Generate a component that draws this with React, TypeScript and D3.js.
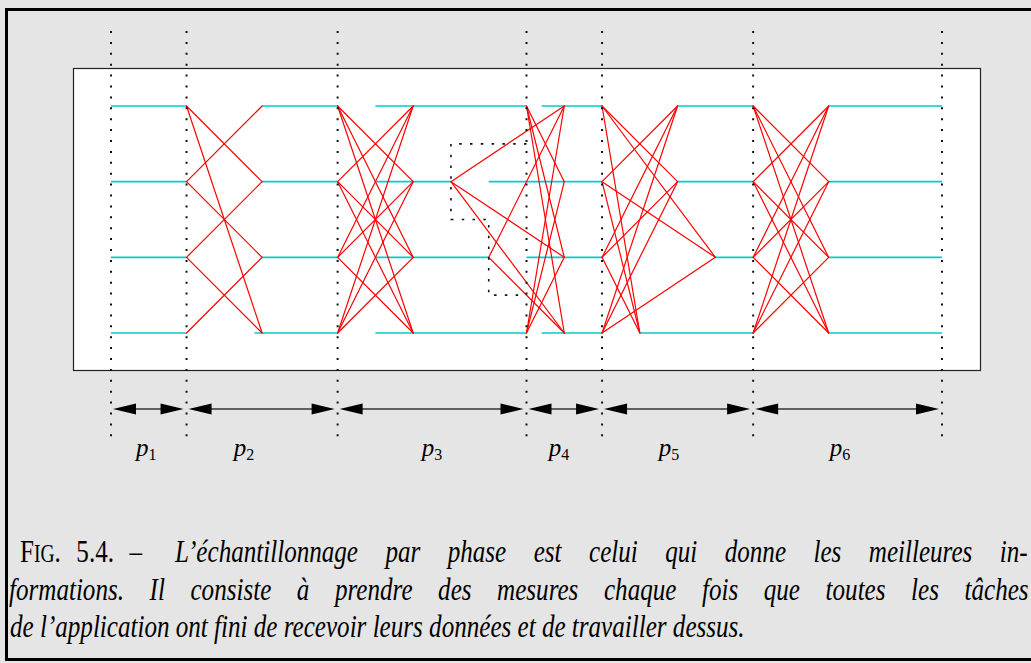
import React from "react";
import * as d3 from "d3";

// ---- data ----
const tasks = [0, 1, 2, 3];
const timeDomain = [0, 22];
const phaseBounds = [0, 2, 6, 11, 13, 17, 22];
const phaseNames = ["1", "2", "3", "4", "5", "6"];
const labelTimes = [0.93, 3.52, 8.5, 11.86, 14.77, 19.3];

// [task, start, end]  computation segments (cyan)
const computeSegments: [number, number, number][] = [
  [0, 0, 2], [0, 4, 6], [0, 7, 11], [0, 11.4, 13], [0, 15, 17], [0, 19, 22],
  [1, 0, 2], [1, 4, 6], [1, 7, 9], [1, 10, 13], [1, 15, 17], [1, 19, 22],
  [2, 0, 2], [2, 4, 6], [2, 7, 10], [2, 11, 13], [2, 16, 17], [2, 19, 22],
  [3, 0, 2], [3, 3.8, 6], [3, 7, 11], [3, 11.4, 13], [3, 14, 17], [3, 19, 22],
];

// [from, to, sendTime, recvTime]  messages (red)
const messagesP2: [number, number, number, number][] = [
  [0, 1, 2, 4], [0, 3, 2, 4], [1, 0, 2, 4], [1, 2, 2, 4], [2, 1, 2, 4], [2, 3, 2, 4], [3, 2, 2, 4],
];
const messagesP3: [number, number, number, number][] = [
  [0, 1, 6, 8], [0, 2, 6, 8], [0, 3, 6, 8], [1, 0, 6, 8], [1, 2, 6, 8], [1, 3, 6, 8],
  [2, 0, 6, 8], [2, 1, 6, 8], [2, 3, 6, 8], [3, 0, 6, 8], [3, 1, 6, 8], [3, 2, 6, 8],
];
const messagesP4: [number, number, number, number][] = [
  [1, 0, 9, 12], [1, 2, 9, 12], [1, 3, 9, 12], [2, 0, 10, 12], [2, 3, 10, 12],
  [0, 1, 11, 12], [0, 2, 11, 12], [0, 3, 11, 12], [3, 0, 11, 12], [3, 1, 11, 12], [3, 2, 11, 12],
];
const messagesP5: [number, number, number, number][] = [
  [0, 1, 13, 15], [0, 2, 13, 16], [0, 3, 13, 14], [1, 0, 13, 15], [1, 2, 13, 16], [1, 3, 13, 14],
  [2, 0, 13, 15], [2, 1, 13, 15], [2, 3, 13, 14], [3, 0, 13, 15], [3, 1, 13, 15], [3, 2, 13, 16],
];
const messagesP6: [number, number, number, number][] = [
  [0, 1, 17, 19], [0, 2, 17, 19], [0, 3, 17, 19], [1, 0, 17, 19], [1, 2, 17, 19], [1, 3, 17, 19],
  [2, 0, 17, 19], [2, 1, 17, 19], [2, 3, 17, 19], [3, 0, 17, 19], [3, 1, 17, 19], [3, 2, 17, 19],
];

// stepped dotted outline in phase 3: [time, taskPosition]
const stepOutline: [number, number][] = [
  [11, 0.5], [9, 0.5], [9, 1.5], [10, 1.5], [10, 2.5], [11, 2.5],
];

const captionHead = ["F", "IG", ". 5.4. –"];
const captionLines = [
  "L’échantillonnage par phase est celui qui donne les meilleures in-",
  "formations. Il consiste à prendre des mesures chaque fois que toutes les tâches",
  "de l’application ont fini de recevoir leurs données et de travailler dessus.",
];

// ---- helpers ----
let ctx: CanvasRenderingContext2D | null = null;
function measure(text: string, font: string): number {
  if (!ctx) ctx = document.createElement("canvas").getContext("2d");
  if (!ctx) return text.length * 10;
  ctx.font = font;
  return ctx.measureText(text).width;
}

const CAP_FONT_SIZE = 31;
const CAP_FAMILY = "'Liberation Serif', 'Times New Roman', serif";

export default function App() {
  const W = 1031;
  const H = 663;
  const x = d3.scaleLinear().domain(timeDomain).range([111, 942]);
  const y = d3.scaleLinear().domain([0, 3]).range([106, 333]);

  const allMessages = [...messagesP2, ...messagesP3, ...messagesP4, ...messagesP5, ...messagesP6];
  const outline = d3.line<[number, number]>().x((d) => x(d[0])).y((d) => y(d[1]))(stepOutline) || "";

  const italicFont = `italic ${CAP_FONT_SIZE}px ${CAP_FAMILY}`;
  const nat3 = measure(captionLines[2], italicFont);
  const hScale = 735 / nat3;

  const justify = (text: string, target: number, s: number, font: string) => {
    const nat = measure(text, font);
    const spaces = (text.match(/ /g) || []).length;
    return spaces ? Math.max(0, (target / s - nat) / spaces) : 0;
  };

  const captionRows = [
    { x0: 175, base: 562, text: captionLines[0], ws: justify(captionLines[0], 853, hScale, italicFont) },
    { x0: 9, base: 600, text: captionLines[1], ws: justify(captionLines[1], 1020, hScale, italicFont) },
    { x0: 10, base: 637, text: captionLines[2], ws: 0 },
  ];

  const headNat =
    measure(captionHead[0], `${CAP_FONT_SIZE}px ${CAP_FAMILY}`) +
    measure(captionHead[1], `${CAP_FONT_SIZE * 0.78}px ${CAP_FAMILY}`) +
    measure(captionHead[2], `${CAP_FONT_SIZE}px ${CAP_FAMILY}`);
  const headWs = Math.max(0, (122 / hScale - headNat) / 2);

  const arrowY = 409;
  const headLen = 23;
  const headHalf = 5.5;

  return (
    <div style={{ position: "fixed", left: 0, top: 0, width: W, height: H }}>
      <svg width={W} height={H} style={{ display: "block" }}>
        <rect width={W} height={H} fill="#e5e5e5" />
        <rect x={6.5} y={9.5} width={1100} height={650} fill="none" stroke="#000" strokeWidth={3} />
        <rect x={73.5} y={68.5} width={907} height={302} fill="#fff" stroke="#222" strokeWidth={1.2} />

        {/* computation segments */}
        <g stroke="#00cccc" strokeWidth={1.6}>
          {computeSegments.map(([t, s, e], i) => (
            <line key={i} x1={x(s)} x2={x(e)} y1={y(t)} y2={y(t)} />
          ))}
        </g>

        {/* messages */}
        <g stroke="#ff0000" strokeWidth={1.2} strokeLinecap="round">
          {allMessages.map(([f, t, s, r], i) => (
            <line key={i} x1={x(s)} y1={y(f)} x2={x(r)} y2={y(t)} />
          ))}
        </g>

        {/* stepped outline */}
        <path d={outline} fill="none" stroke="#111" strokeWidth={1.6} strokeDasharray="2.5 8.3" />

        {/* phase boundaries */}
        <g stroke="#111" strokeWidth={2} strokeDasharray="2 8.9">
          {phaseBounds.map((b, i) => (
            <line key={i} x1={x(b)} x2={x(b)} y1={31} y2={442} />
          ))}
        </g>

        {/* phase arrows */}
        {phaseNames.map((name, i) => {
          const a = x(phaseBounds[i]) + 2;
          const b = x(phaseBounds[i + 1]) - 3;
          return (
            <g key={name}>
              <line x1={a + 5} x2={b - 5} y1={arrowY} y2={arrowY} stroke="#333" strokeWidth={1.6} />
              <path d={`M${a},${arrowY} L${a + headLen},${arrowY - headHalf} L${a + headLen},${arrowY + headHalf} Z`} fill="#000" />
              <path d={`M${b},${arrowY} L${b - headLen},${arrowY - headHalf} L${b - headLen},${arrowY + headHalf} Z`} fill="#000" />
            </g>
          );
        })}

        {/* phase labels */}
        {phaseNames.map((name, i) => (
          <text key={name} x={x(labelTimes[i])} y={456} fontFamily={CAP_FAMILY} fill="#000" textAnchor="middle">
            <tspan fontStyle="italic" fontSize={25}>p</tspan>
            <tspan fontSize={16} dy={4}>{name}</tspan>
          </text>
        ))}

        {/* caption head */}
        <g transform={`translate(20,562) scale(${hScale},1)`}>
          <text x={0} y={0} fontFamily={CAP_FAMILY} fill="#000" style={{ wordSpacing: `${headWs}px` }}>
            <tspan fontSize={CAP_FONT_SIZE}>{captionHead[0]}</tspan>
            <tspan fontSize={CAP_FONT_SIZE * 0.78}>{captionHead[1]}</tspan>
            <tspan fontSize={CAP_FONT_SIZE}>{captionHead[2]}</tspan>
          </text>
        </g>

        {/* caption lines */}
        {captionRows.map((row, i) => (
          <g key={i} transform={`translate(${row.x0},${row.base}) scale(${hScale},1)`}>
            <text
              x={0}
              y={0}
              fontFamily={CAP_FAMILY}
              fontStyle="italic"
              fontSize={CAP_FONT_SIZE}
              fill="#000"
              style={{ wordSpacing: `${row.ws}px` }}
            >
              {row.text}
            </text>
          </g>
        ))}
      </svg>
    </div>
  );
}
